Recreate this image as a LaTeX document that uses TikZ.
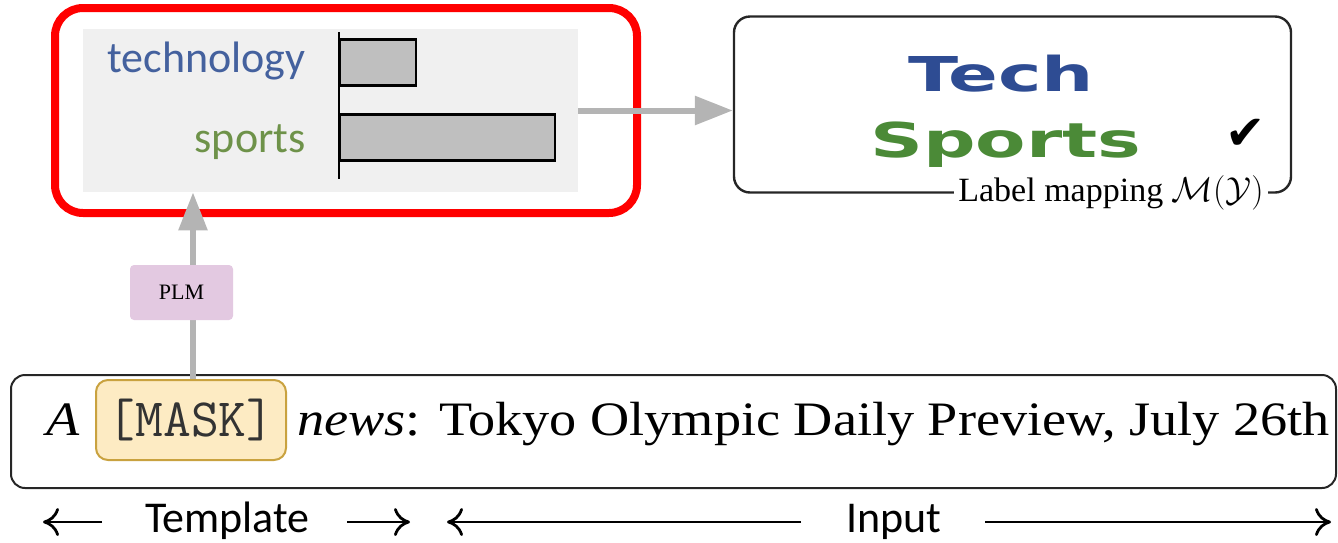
\documentclass[tikz,border=0pt]{standalone}
\usepackage{fontspec}
\setmainfont{Liberation Serif}
\newfontfamily\calfont{Carlito}
\newfontfamily\dejafont{DejaVu Sans}
\usetikzlibrary{positioning,arrows.meta}

\definecolor{flowgray}{HTML}{B4B4B4}
\definecolor{panelgray}{HTML}{F0F0F0}
\definecolor{barfill}{HTML}{BFBFBF}
\definecolor{plmfill}{HTML}{E3C9E1}
\definecolor{maskfill}{HTML}{FDEBC3}
\definecolor{maskedge}{HTML}{C9A23F}
\definecolor{techblue}{HTML}{44619E}
\definecolor{sportgreen}{HTML}{6E9249}
\definecolor{techbold}{HTML}{2E4C93}
\definecolor{sportbold}{HTML}{4B8A37}

\begin{document}
\begin{tikzpicture}[
    x=0.5pt,y=-0.5pt,
    panel/.style={
        draw=black!85,
        line width=1.2pt,
        rounded corners=8pt,
      },
    bar/.style={
        draw=black,
        fill=barfill,
        line width=1.2pt,
        minimum height=23pt,
        inner sep=0pt,
        anchor=west,
      },
    flow/.style={draw=flowgray,line width=3pt,-{Triangle[length=19pt,width=14pt]}},
    span/.style={line width=1.4pt,-{To[length=8pt,width=14pt]}},
    word/.style={font=\calfont\fontsize{22}{26}\selectfont,inner sep=0pt,anchor=base},
    big/.style={font=\dejafont\bfseries\fontsize{24}{28}\selectfont,xscale=1.53,anchor=base},
    serif/.style={font=\fontsize{24}{28}\selectfont,inner sep=0pt,anchor=base west,xscale=1.13}
  ]
  \useasboundingbox (0,0) rectangle (1338,542);

  % scores of the PLM
  \node[draw=red,line width=4pt,rounded corners=14pt,minimum width=291pt,minimum height=102.5pt] (scores) at (346,110.5) {};
  \node[fill=panelgray,minimum width=247.5pt,minimum height=81.5pt,inner sep=0pt] (chart) at (330.5,110.5) {};
  \foreach \Word/\Len/\Y/\B/\Col in {technology/38pt/62.5/72/techblue,sports/107.5pt/137.5/152/sportgreen}{
      \node[bar,minimum width=\Len] (bar-\Word) at (339,\Y) {};
      \node[word,text=\Col,anchor=base east] (lbl-\Word) at (306,\B) {\Word};
    }
  \coordinate (axtop) at (339,32);
  \coordinate (axbot) at (339,179);
  \draw[line width=1pt] (axtop) -- (axbot);

  % label mapping
  \node[panel,minimum width=278.5pt,minimum height=88pt] (mapping) at (1012.5,104.5) {};
  \node[big,text=techbold] (tech) at (1001,91) {Tech};
  \node[big,text=sportbold] (sport) at (1006,157) {Sports};
  \node[font=\dejafont\fontsize{24}{28}\selectfont,anchor=base] (tick) at (1246,149) {✔};
  \node[fill=white,inner sep=2pt,font=\fontsize{17}{20}\selectfont] (maplabel) at (1111,193) {Label mapping $\mathcal{M}(\mathcal{Y})$};
  \draw[flow] (chart.east) -- (chart.east -| mapping.west);

  % input sentence
  \node[panel,line width=1pt,rounded corners=7pt,minimum width=662.5pt,minimum height=56.5pt] (sentence) at (673.5,431.5) {};
  \node[draw=maskedge,fill=maskfill,line width=1pt,rounded corners=6pt,minimum width=95pt,minimum height=40pt,inner sep=0pt,
    font=\ttfamily\fontsize{27}{30}\selectfont,text=black!80] (mask) at (191,420) {[MASK]};
  \node[serif] (art) at (46,435) {\textit{A}};
  \node[serif] (text) at (297,435) {\textit{news}: Tokyo Olympic Daily Preview, July 26th};

  % PLM on the way up
  \coordinate (up) at ([xshift=1pt]mask.north);
  \draw[flow] (up) -- (chart.south -| up);
  \node[fill=plmfill,rounded corners=2pt,minimum width=51.5pt,minimum height=27.5pt,font=\fontsize{11}{13}\selectfont] (plm) at (181.5,292.5) {PLM};

  % template / input spans
  \node[word] (tmpl) at (227.5,532) {Template};
  \node[word] (inp) at (894,532) {Input};
  \coordinate (t0) at (43,522);
  \coordinate (t1) at (102,522);
  \coordinate (t2) at (347,522);
  \coordinate (t3) at (410,522);
  \coordinate (i0) at (447,522);
  \coordinate (i1) at (801,522);
  \coordinate (i2) at (985,522);
  \coordinate (i3) at (1331,522);
  \draw[span] (t1) -- (t0);
  \draw[span] (t2) -- (t3);
  \draw[span] (i1) -- (i0);
  \draw[span] (i2) -- (i3);
\end{tikzpicture}
\end{document}
